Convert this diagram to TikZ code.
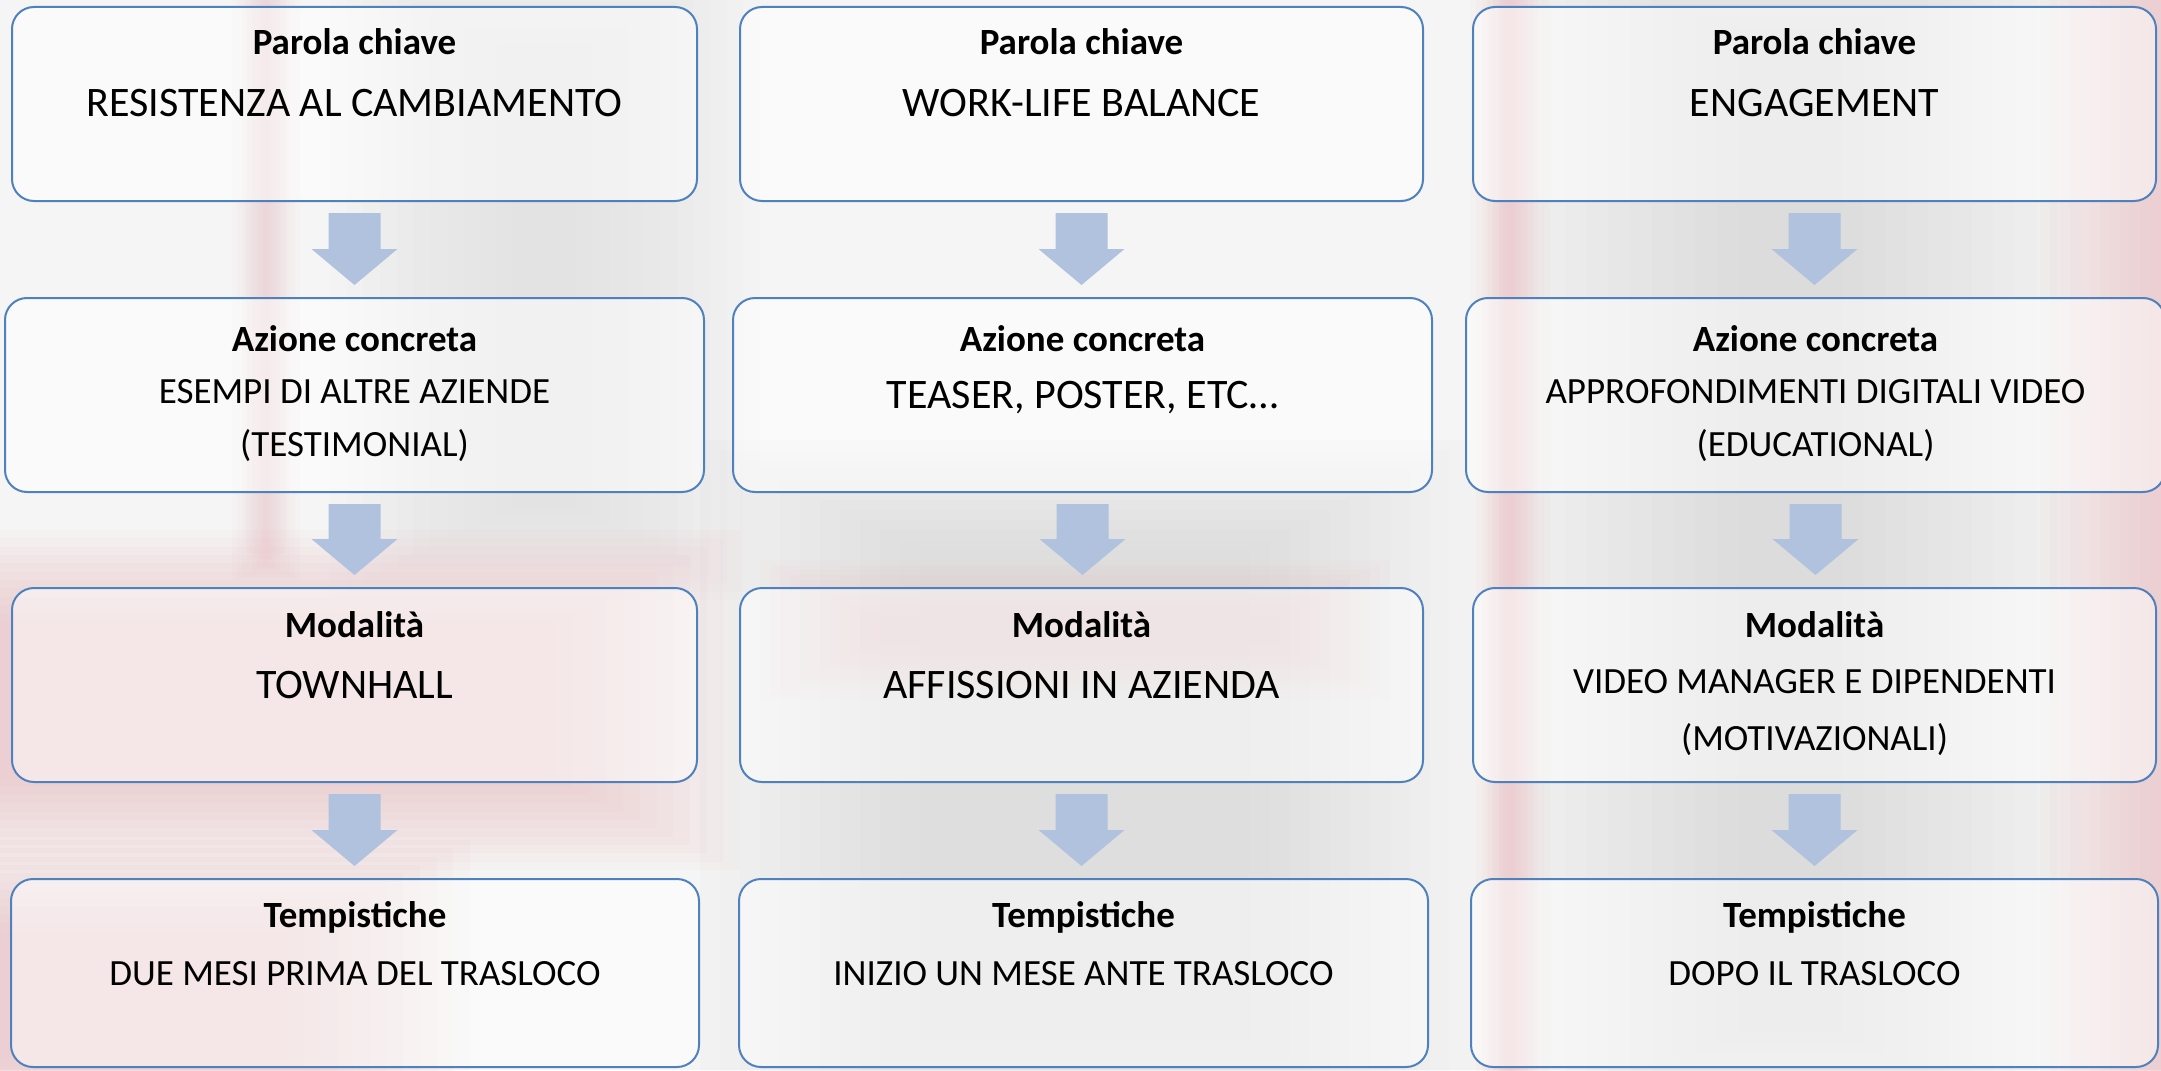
\documentclass[tikz,border=0pt]{standalone}
\usepackage{fontspec}
\setmainfont{Carlito}
\usetikzlibrary{calc}
\definecolor{boxline}{RGB}{79,129,189}
\definecolor{arrowc}{RGB}{176,194,222}
\definecolor{bgbase}{RGB}{245,245,245}
\definecolor{bggray}{RGB}{205,205,205}
\definecolor{bgpink}{RGB}{236,178,184}
% soft-edged rectangle: colour, x1, y1, x2, y2, fade width, layer opacity
\newcommand{\softrect}[7]{%
  \foreach \k in {0,...,11} {%
    \fill[#1, fill opacity=#7] ({#2+\k*#6/12},{#3+\k*#6/24}) rectangle ({#4-\k*#6/12},{#5-\k*#6/24});}}
\newcommand{\blkarrow}[2]{%
  \fill[arrowc] ($(#1.south)+(-26,12)$) -- ($(#1.south)+(26,12)$)
    -- ($(#1.south |- #2.north)+(26,-49)$) -- ($(#1.south |- #2.north)+(43,-49)$)
    -- ($(#1.south |- #2.north)+(0,-13)$)
    -- ($(#1.south |- #2.north)+(-43,-49)$) -- ($(#1.south |- #2.north)+(-26,-49)$) -- cycle;}
\begin{document}
\begin{tikzpicture}[x=0.5pt,y=-0.5pt,
  box/.style={draw=boxline, line width=1pt, rounded corners=11pt, fill=white, fill opacity=0.5,
              outer sep=0pt, inner sep=0pt, minimum height=97pt},
  ttl/.style={anchor=base, inner sep=0pt, font=\bfseries\fontsize{18.5}{22}\selectfont},
  big/.style={anchor=base, inner sep=0pt, font=\fontsize{21}{25}\selectfont},
  sml/.style={anchor=base, inner sep=0pt, font=\fontsize{18.5}{22}\selectfont}]
\useasboundingbox (0,0) rectangle (2161,1070);
\clip (0,0) rectangle (2161,1070);
% ---------- faded background picture ----------
\fill[bgbase] (0,0) rectangle (2161,1070);
\softrect{bggray}{1500}{-80}{2080}{1150}{260}{0.06}
\softrect{bggray}{700}{440}{1470}{1150}{240}{0.05}
\softrect{bggray}{330}{-40}{760}{600}{200}{0.035}
\softrect{bgpink}{232}{-40}{300}{580}{60}{0.045}
\softrect{bgpink}{-300}{530}{740}{870}{200}{0.06}
\softrect{bgpink}{-300}{840}{470}{1150}{200}{0.06}
\softrect{bgpink}{760}{560}{1390}{700}{120}{0.04}
\softrect{bgpink}{1470}{-80}{1550}{1150}{70}{0.06}
\softrect{bgpink}{2040}{-80}{2300}{1150}{120}{0.06}
% ---------- boxes ----------
\node[box, minimum width=342.5pt] (r1c1) at (354.5,104) {};
\node[box, minimum width=341.5pt] (r1c2) at (1081.5,104) {};
\node[box, minimum width=341.5pt] (r1c3) at (1814.5,104) {};
\node[box, minimum width=349.5pt] (r2c1) at (354.5,395) {};
\node[box, minimum width=349.5pt] (r2c2) at (1082.5,395) {};
\node[box, minimum width=349.5pt] (r2c3) at (1815.5,395) {};
\node[box, minimum width=342.5pt] (r3c1) at (354.5,685) {};
\node[box, minimum width=341.5pt] (r3c2) at (1081.5,685) {};
\node[box, minimum width=341.5pt] (r3c3) at (1814.5,685) {};
\node[box, minimum width=344pt, minimum height=94pt] (r4c1) at (355,973) {};
\node[box, minimum width=344.5pt, minimum height=94pt] (r4c2) at (1083.5,973) {};
\node[box, minimum width=343.5pt, minimum height=94pt] (r4c3) at (1814.5,973) {};
% ---------- arrows ----------
\blkarrow{r1c1}{r2c1}\blkarrow{r2c1}{r3c1}\blkarrow{r3c1}{r4c1}
\blkarrow{r1c2}{r2c2}\blkarrow{r2c2}{r3c2}\blkarrow{r3c2}{r4c2}
\blkarrow{r1c3}{r2c3}\blkarrow{r2c3}{r3c3}\blkarrow{r3c3}{r4c3}
% ---------- texts ----------
\node[ttl] (h11) at ($(r1c1.north)+(0,48)$) {Parola chiave};
\node[big] (a11) at ($(r1c1.north)+(0,110)$) {RESISTENZA AL CAMBIAMENTO};
\node[ttl] (h12) at ($(r1c2.north)+(0,48)$) {Parola chiave};
\node[big] (a12) at ($(r1c2.north)+(0,110)$) {WORK-LIFE BALANCE};
\node[ttl] (h13) at ($(r1c3.north)+(0,48)$) {Parola chiave};
\node[big] (a13) at ($(r1c3.north)+(0,110)$) {ENGAGEMENT};
\node[ttl] (h21) at ($(r2c1.north)+(0,53)$) {Azione concreta};
\node[sml] (a21) at ($(r2c1.north)+(0,105)$) {ESEMPI DI ALTRE AZIENDE};
\node[sml] (b21) at ($(r2c1.north)+(0,158)$) {(TESTIMONIAL)};
\node[ttl] (h22) at ($(r2c2.north)+(0,53)$) {Azione concreta};
\node[big] (a22) at ($(r2c2.north)+(0,110)$) {TEASER, POSTER, ETC…};
\node[ttl] (h23) at ($(r2c3.north)+(0,53)$) {Azione concreta};
\node[sml] (a23) at ($(r2c3.north)+(0,105)$) {APPROFONDIMENTI DIGITALI VIDEO};
\node[sml] (b23) at ($(r2c3.north)+(0,158)$) {(EDUCATIONAL)};
\node[ttl] (h31) at ($(r3c1.north)+(0,49)$) {Modalità};
\node[big] (a31) at ($(r3c1.north)+(0,110)$) {TOWNHALL};
\node[ttl] (h32) at ($(r3c2.north)+(0,49)$) {Modalità};
\node[big] (a32) at ($(r3c2.north)+(0,110)$) {AFFISSIONI IN AZIENDA};
\node[ttl] (h33) at ($(r3c3.north)+(0,49)$) {Modalità};
\node[sml] (a33) at ($(r3c3.north)+(0,105)$) {VIDEO MANAGER E DIPENDENTI};
\node[sml] (b33) at ($(r3c3.north)+(0,162)$) {(MOTIVAZIONALI)};
\node[ttl] (h41) at ($(r4c1.north)+(0,48)$) {Tempistiche};
\node[sml] (a41) at ($(r4c1.north)+(0,106)$) {DUE MESI PRIMA DEL TRASLOCO};
\node[ttl] (h42) at ($(r4c2.north)+(0,48)$) {Tempistiche};
\node[sml] (a42) at ($(r4c2.north)+(0,106)$) {INIZIO UN MESE ANTE TRASLOCO};
\node[ttl] (h43) at ($(r4c3.north)+(0,48)$) {Tempistiche};
\node[sml] (a43) at ($(r4c3.north)+(0,106)$) {DOPO IL TRASLOCO};
\end{tikzpicture}
\end{document}
